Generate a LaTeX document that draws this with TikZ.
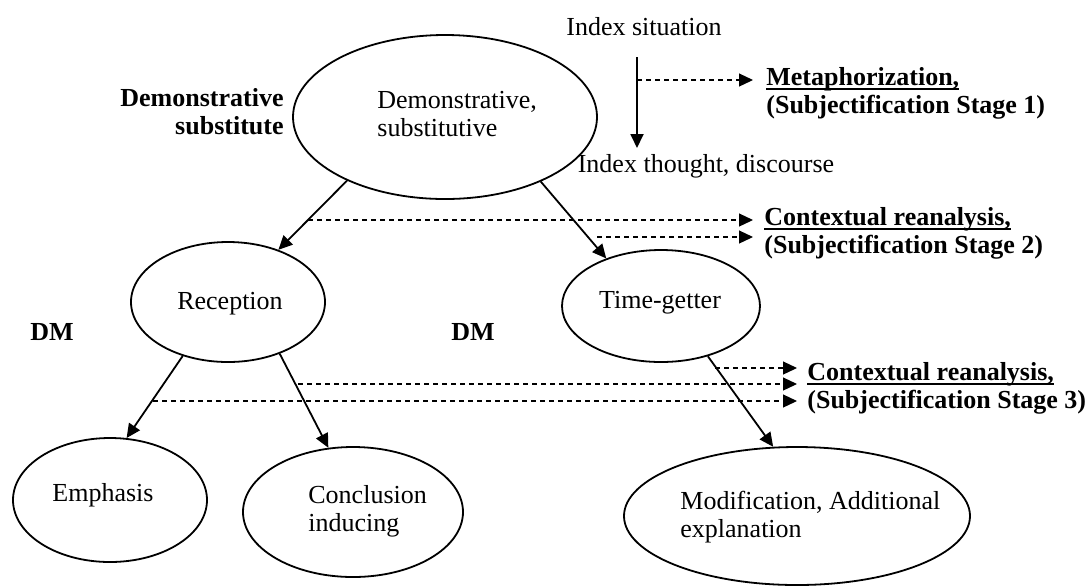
\documentclass[tikz,border=0pt]{standalone}
\usepackage{fontspec}
\setmainfont{Liberation Serif}
\usetikzlibrary{shapes.geometric,arrows.meta}
\newcommand{\stageul}[1]{\setbox0\hbox{#1}\rlap{\rule[-2.5pt]{\wd0}{0.9pt}}\box0}
\begin{document}
\begin{tikzpicture}[x=0.5pt,y=-0.5pt,font=\fontsize{13pt}{14pt}\selectfont,
  bub/.style={shape=ellipse,draw=black,line width=0.9pt,inner sep=0pt},
  txt/.style={inner sep=0pt,align=left},
  txtB/.style={txt,font=\fontsize{13pt}{14pt}\selectfont\bfseries},
  arr/.style={line width=0.9pt,-{Triangle[length=7pt,width=6.5pt]}},
  darr/.style={line width=0.6pt,dash pattern=on 2.5pt off 2pt,-{Triangle[length=7pt,width=6.5pt]}}]
\useasboundingbox (0,0) rectangle (1087,586);

% ellipses
\node[bub,minimum width=152pt,minimum height=82pt] (main) at (445,117) {};
\node[txt,anchor=west] (maint) at (377,114) {Demonstrative,\\substitutive};
\node[bub,minimum width=97pt,minimum height=60pt] (rec) at (228,302) {};
\node[txt] (rect) at (230,304) {Reception};
\node[bub,minimum width=99pt,minimum height=56pt] (tg) at (661,306) {};
\node[txt] (tgt) at (660,303) {Time-getter};
\node[bub,minimum width=97pt,minimum height=62pt] (emph) at (110,500) {};
\node[txt] (empht) at (103,495) {Emphasis};
\node[bub,minimum width=110pt,minimum height=65pt] (concl) at (353,512) {};
\node[txt,anchor=west] (conclt) at (308,511) {Conclusion\\inducing};
\node[bub,minimum width=173pt,minimum height=69pt] (mod) at (797,516) {};
\node[txt,anchor=west] (modt) at (680,517) {Modification, Additional\\explanation};

% side labels
\node[txtB,align=right,anchor=east] (dsub) at (284,112) {Demonstrative\\substitute};
\node[txtB] (dm1) at (52,332) {DM};
\node[txtB] (dm2) at (473,332) {DM};

% index shift
\node[txt] (sit) at (644,27) {Index situation};
\node[txt] (thought) at (706,166) {Index thought, discourse};
\coordinate (vtop) at (637,57);
\coordinate (vbot) at (637,148);
\draw[arr] (vtop) -- (vbot);

% stage labels
\node[txtB,anchor=west] (met) at (766,93) {\stageul{Metaphorization,}\\(Subjectification Stage 1)};
\node[txtB,anchor=west] (ctxA) at (764,233) {\stageul{Contextual reanalysis,}\\(Subjectification Stage 2)};
\node[txtB,anchor=west] (ctxB) at (807,388) {\stageul{Contextual reanalysis,}\\(Subjectification Stage 3)};

% tree arrows
\draw[arr] (main.213) -- (rec.46);
\draw[arr] (main.326) -- (tg.139);
\draw[arr] (rec.230) -- (emph.75);
\draw[arr] (rec.315) -- (concl.111);
\draw[arr] (tg.313) -- (mod.109);

% dashed arrows
\coordinate (m0) at (637,80);   \coordinate (m1) at (753,80);
\coordinate (a0) at (308,220);  \coordinate (a1) at (753,220);
\coordinate (b0) at (597,237);  \coordinate (b1) at (753,237);
\coordinate (c0) at (715,368);  \coordinate (c1) at (797,368);
\coordinate (d0) at (298,384);  \coordinate (d1) at (797,384);
\coordinate (e0) at (153,401);  \coordinate (e1) at (797,401);
\draw[darr] (m0) -- (m1);
\draw[darr] (a0) -- (a1);
\draw[darr] (b0) -- (b1);
\draw[darr] (c0) -- (c1);
\draw[darr] (d0) -- (d1);
\draw[darr] (e0) -- (e1);
\end{tikzpicture}
\end{document}
